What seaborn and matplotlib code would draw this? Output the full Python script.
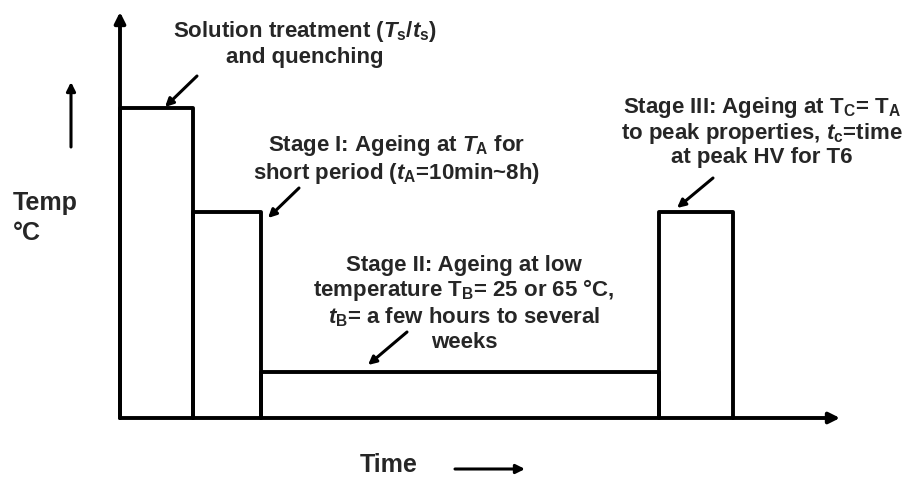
import pandas as pd
import seaborn as sns
import matplotlib.pyplot as plt

# Etapas do tratamento térmico (unidades esquemáticas de tempo / temperatura)
stage_names = ["Solution", "Stage I", "Stage II", "Stage III"]
stage_start = [0, 73, 141, 539]
stage_end = [73, 141, 539, 613]
stage_temp = [310, 206, 46, 206]

solution_lines = ["Solution treatment ($\\it{T}_\\mathrm{s}$/$\\it{t}_\\mathrm{s}$)",
                  "and quenching"]
stage1_lines = ["Stage I: Ageing at $\\it{T}_\\mathrm{A}$ for",
                "short period ($\\it{t}_\\mathrm{A}$=10min~8h)"]
stage2_lines = ["Stage II: Ageing at low",
                "temperature T$_\\mathrm{B}$= 25 or 65 °C,",
                "$\\it{t}_\\mathrm{B}$= a few hours to several",
                "weeks"]
stage3_lines = ["Stage III: Ageing at T$_\\mathrm{C}$= T$_\\mathrm{A}$",
                "to peak properties, $\\it{t}_\\mathrm{c}$=time",
                "at peak HV for T6"]

sns.set_theme(style="white")
plt.rcParams['font.family'] = ['Liberation Sans', 'DejaVu Sans']
plt.rcParams['font.weight'] = 'bold'
plt.rcParams['mathtext.fontset'] = 'custom'
plt.rcParams['mathtext.rm'] = 'Liberation Sans:bold'
plt.rcParams['mathtext.it'] = 'Liberation Sans:italic:bold'
plt.rcParams['mathtext.bf'] = 'Liberation Sans:bold'

# Contorno de cada etapa como retângulo aberto
rows = []
for name, t0, t1, temp in zip(stage_names, stage_start, stage_end, stage_temp):
    for order, (t, T) in enumerate([(t0, 0), (t0, temp), (t1, temp), (t1, 0)]):
        rows.append({"stage": name, "order": order, "time": t, "temp": T})
df = pd.DataFrame(rows)

fig = plt.figure(figsize=(9.11, 4.82), dpi=100)
ax = fig.add_axes([0, 0, 1, 1])
sns.lineplot(data=df, x="time", y="temp", units="stage", estimator=None,
             sort=False, color="black", linewidth=2.8, ax=ax)
ax.set_xlim(-120, 791)
ax.set_ylim(-64, 418)
ax.axis("off")

arrow_kw = dict(arrowstyle="-|>", color="black", lw=2.8, mutation_scale=16,
                shrinkA=0, shrinkB=0)
# eixos
ax.annotate("", xy=(0, 406), xytext=(0, 0), arrowprops=arrow_kw)
ax.annotate("", xy=(720, 0), xytext=(0, 0), arrowprops=arrow_kw)

small_kw = dict(arrowstyle="-|>", color="black", lw=2.2, mutation_scale=13,
                shrinkA=0, shrinkB=0)
ax.annotate("", xy=(-49, 336), xytext=(-49, 271), arrowprops=small_kw)
ax.annotate("", xy=(405, -51), xytext=(335, -51), arrowprops=small_kw)

fs = 16
ax.text(-107, 215, "Temp", fontsize=18, ha="left", va="center")
ax.text(-107, 185, "°C", fontsize=18, ha="left", va="center")
ax.text(269, -47, "Time", fontsize=18, ha="center", va="center")


def put_lines(lines, cx, ys):
    for line, y in zip(lines, ys):
        ax.text(cx, y, line, fontsize=fs, ha="center", va="center")


put_lines(solution_lines, 185, [386, 361])
put_lines(stage1_lines, 277, [273, 245])
put_lines(stage2_lines, 344, [153, 128, 101, 75])
put_lines(stage3_lines, 642, [310, 285, 260])

label_kw = dict(arrowstyle="-|>", color="black", lw=2.2, mutation_scale=12,
                shrinkA=0, shrinkB=0)
ax.annotate("", xy=(45, 311), xytext=(77, 342), arrowprops=label_kw)
ax.annotate("", xy=(148, 200), xytext=(179, 230), arrowprops=label_kw)
ax.annotate("", xy=(248, 53), xytext=(287, 86), arrowprops=label_kw)
ax.annotate("", xy=(557, 210), xytext=(593, 240), arrowprops=label_kw)

fig.savefig("out.png", dpi=100)
